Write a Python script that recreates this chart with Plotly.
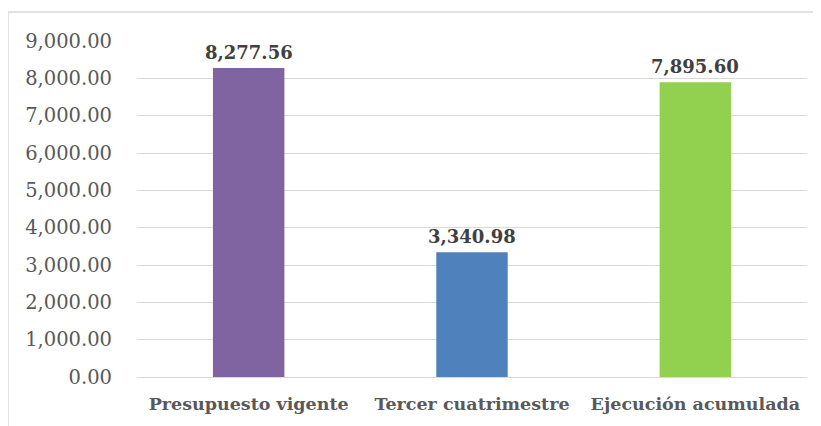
import plotly.graph_objects as go

categories = ["Presupuesto vigente", "Tercer cuatrimestre", "Ejecución acumulada"]
values = [8277.56, 3340.98, 7895.60]
colors = ["#8064A2", "#4F81BD", "#92D050"]
tick_vals = [0, 1000, 2000, 3000, 4000, 5000, 6000, 7000, 8000, 9000]

# page body has an 8px margin, so the figure is drawn at (8, 8)
W, H = 813, 418
L, R, T, B = 129, 14, 33, 49
pw, ph = W - L - R, H - T - B

fig = go.Figure(go.Bar(
    x=categories, y=values,
    marker=dict(color=colors, line=dict(width=0)),
    width=0.32,
    hoverinfo="skip",
))

fig.update_layout(
    width=W, height=H,
    margin=dict(l=L, r=R, t=T, b=B),
    paper_bgcolor="white", plot_bgcolor="white",
    showlegend=False,
    font=dict(family="DejaVu Serif", color="#595959"),
    xaxis=dict(
        showgrid=False, showline=False, ticks="",
        tickfont=dict(family="DejaVu Serif", size=17.5, color="#595959", weight="bold"),
        ticklabelstandoff=14,
    ),
    yaxis=dict(
        range=[0, 9000], tickvals=tick_vals,
        ticktext=[f"{v:,.2f}" for v in tick_vals],
        showgrid=True, gridcolor="#d9d9d9", gridwidth=1.3,
        zeroline=True, zerolinecolor="#d9d9d9", zerolinewidth=1.3,
        tickfont=dict(family="DejaVu Serif", size=19.5, color="#595959"),
        ticklabelstandoff=24,
    ),
    annotations=[dict(
        x=c, y=v, xref="x", yref="y", text=f"<b>{v:,.2f}</b>",
        showarrow=False, yanchor="bottom", yshift=3,
        font=dict(family="DejaVu Serif", size=18, color="#404040"),
    ) for c, v in zip(categories, values)],
    shapes=[dict(
        type="rect", xref="paper", yref="paper",
        x0=(0 - L) / pw, x1=(W + 10 - L) / pw,
        y0=-(H + 10 - T - ph) / ph, y1=(ph + T - 4) / ph,
        line=dict(color="#d9d9d9", width=1.5), fillcolor="rgba(0,0,0,0)",
        layer="below",
    )],
)

fig.write_html("out.html")
